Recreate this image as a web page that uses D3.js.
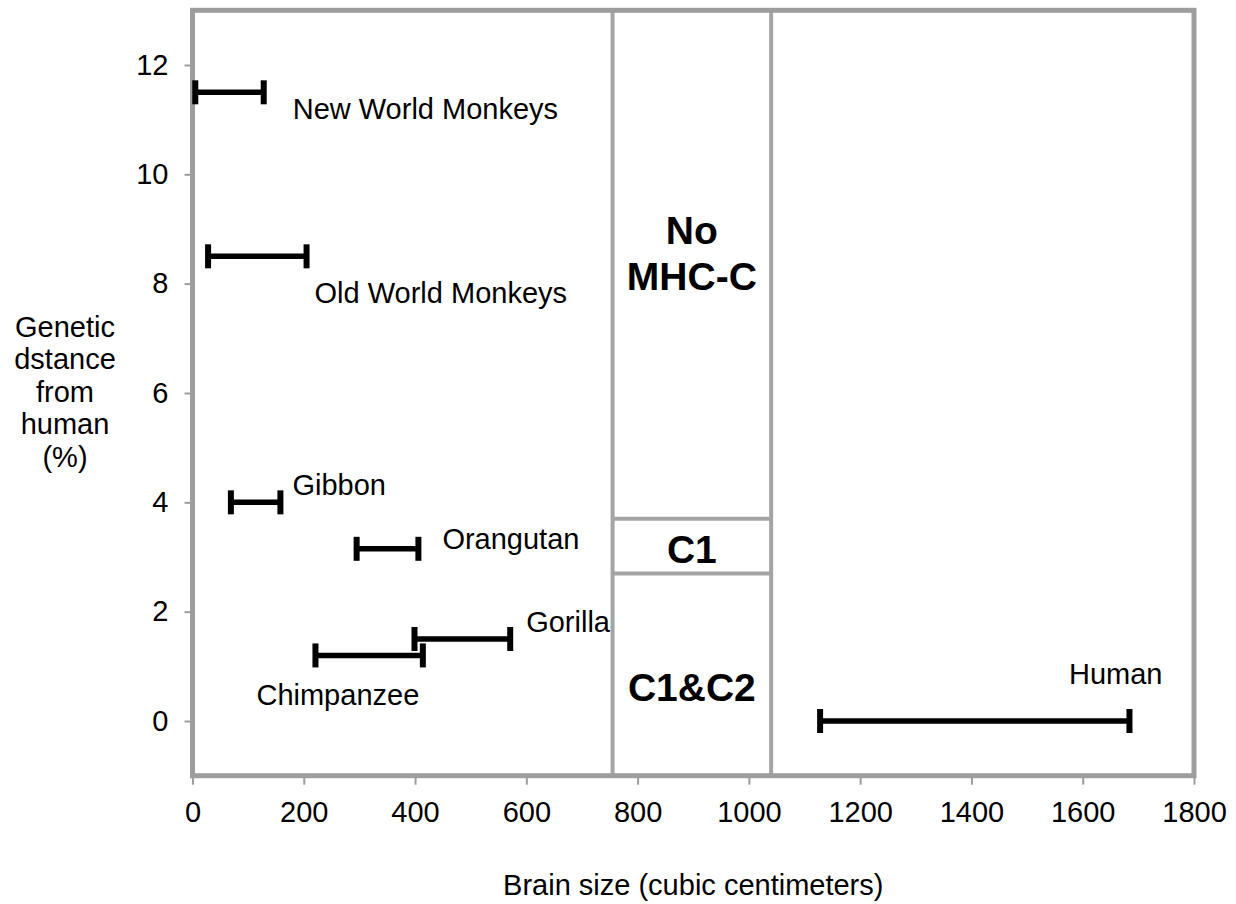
<!DOCTYPE html>
<html>
<head>
<meta charset="utf-8">
<script src="https://cdn.jsdelivr.net/npm/d3@7"></script>
<style>
  html, body { margin: 0; padding: 0; background: #ffffff; }
  svg { display: block; }
  text { font-family: "Liberation Sans", Arial, Helvetica, sans-serif; fill: #000; }
</style>
</head>
<body>
<svg id="chart" width="1236" height="904"></svg>
<script>
// Primate brain size ranges vs. genetic distance from human
const species   = ["New World Monkeys", "Old World Monkeys", "Gibbon", "Orangutan", "Gorilla", "Chimpanzee", "Human"];
const brainLow  = [5, 28, 69, 295, 399, 221, 1128];     // cc
const brainHigh = [128, 205, 158, 406, 571, 414, 1684]; // cc
const distance  = [11.5, 8.5, 4.0, 3.15, 1.5, 1.2, 0];  // % from human

// MHC-C region boundaries
const regionBrainBounds = [755, 1040];
const regionDistBounds  = [2.7, 3.7];
const regionNames = [["No", "MHC-C"], ["C1"], ["C1&C2"]];
const regionRanges = [[3.7, 13], [2.7, 3.7], [-1, 2.7]];

const xTicks = [0, 200, 400, 600, 800, 1000, 1200, 1400, 1600, 1800];
const yTicks = [0, 2, 4, 6, 8, 10, 12];
const xTitle = "Brain size (cubic centimeters)";
const yTitleLines = ["Genetic", "dstance", "from", "human", "(%)"];

// Label placement (pixel offsets from a bar end)
const labelLayout = [
  { end: "hi", dx: 29, dy: 27, anchor: "start" },
  { end: "hi", dx: 8,  dy: 47, anchor: "start" },
  { end: "hi", dx: 12, dy: -7, anchor: "start" },
  { end: "hi", dx: 24, dy: 0,  anchor: "start" },
  { end: "hi", dx: 16, dy: -7, anchor: "start" },
  { end: "lo", dx: -59, dy: 50, anchor: "start" },
  { end: "hi", dx: 33, dy: -37, anchor: "end" }
];
const regionLabelDy = [[-21, 25], [17], [26]];

const svg = d3.select("#chart");
const W = 1236, H = 904;
const fontSize = 29;
svg.append("rect").attr("width", W).attr("height", H).attr("fill", "#fff");

const x = d3.scaleLinear().domain([0, 1800]).range([192.5, 1194]);
const y = d3.scaleLinear().domain([-1, 13]).range([775.7, 10.3]);

const frameColor = "#9d9d9d";
const innerColor = "#a4a4a4";

// Axes
const xAxis = d3.axisBottom(x).tickValues(xTicks).tickFormat(d3.format("d"))
  .tickSize(9).tickPadding(17);
const yAxis = d3.axisLeft(y).tickValues(yTicks).tickFormat(d3.format("d"))
  .tickSize(8).tickPadding(16);

const gx = svg.append("g").attr("transform", `translate(0,${y(-1)})`).call(xAxis);
const gy = svg.append("g").attr("transform", `translate(${x(0)},0)`).call(yAxis);
[gx, gy].forEach(g => {
  g.select(".domain").remove();
  g.selectAll(".tick line").attr("stroke", frameColor).attr("stroke-width", 2);
  g.selectAll(".tick text").attr("font-size", fontSize).attr("fill", "#000")
    .style("font-family", "'Liberation Sans', Arial, sans-serif");
});

// Region dividers
const regionG = svg.append("g");
regionBrainBounds.forEach(v => {
  regionG.append("line")
    .attr("x1", x(v)).attr("x2", x(v))
    .attr("y1", y(13)).attr("y2", y(-1))
    .attr("stroke", innerColor).attr("stroke-width", 4);
});
regionDistBounds.forEach(v => {
  regionG.append("line")
    .attr("x1", x(regionBrainBounds[0])).attr("x2", x(regionBrainBounds[1]))
    .attr("y1", y(v)).attr("y2", y(v))
    .attr("stroke", innerColor).attr("stroke-width", 4);
});

// Plot frame
svg.append("rect")
  .attr("x", x(0)).attr("y", y(13))
  .attr("width", x(1800) - x(0)).attr("height", y(-1) - y(13))
  .attr("fill", "none").attr("stroke", frameColor).attr("stroke-width", 5);

// Region labels
const regionCx = (x(regionBrainBounds[0]) + x(regionBrainBounds[1])) / 2;
regionNames.forEach((lines, i) => {
  const mid = (y(regionRanges[i][0]) + y(regionRanges[i][1])) / 2;
  lines.forEach((t, j) => {
    regionG.append("text")
      .attr("x", regionCx).attr("y", mid + regionLabelDy[i][j])
      .attr("text-anchor", "middle")
      .attr("font-size", 39).attr("font-weight", "bold")
      .text(t);
  });
});

// Range bars
const bars = svg.append("g");
const capHalf = 12;
species.forEach((name, i) => {
  const x0 = x(brainLow[i]), x1 = x(brainHigh[i]), yy = y(distance[i]);
  const g = bars.append("g");
  g.append("line").attr("x1", x0).attr("x2", x1).attr("y1", yy).attr("y2", yy)
    .attr("stroke", "#000").attr("stroke-width", 5.5);
  [x0, x1].forEach(cx => {
    g.append("line").attr("x1", cx).attr("x2", cx)
      .attr("y1", yy - capHalf).attr("y2", yy + capHalf)
      .attr("stroke", "#000").attr("stroke-width", 6);
  });
  const L = labelLayout[i];
  const ax = L.end === "hi" ? x1 : x0;
  g.append("text")
    .attr("x", ax + L.dx).attr("y", yy + L.dy)
    .attr("text-anchor", L.anchor)
    .attr("font-size", fontSize)
    .text(name);
});

// Axis titles
svg.append("text")
  .attr("x", (x(0) + x(1800)) / 2).attr("y", 895)
  .attr("text-anchor", "middle").attr("font-size", fontSize)
  .text(xTitle);

const yt = svg.append("text").attr("text-anchor", "middle").attr("font-size", fontSize);
yTitleLines.forEach((t, i) => {
  yt.append("tspan").attr("x", 65).attr("y", 336.5 + i * 32.5).text(t);
});
</script>
</body>
</html>
